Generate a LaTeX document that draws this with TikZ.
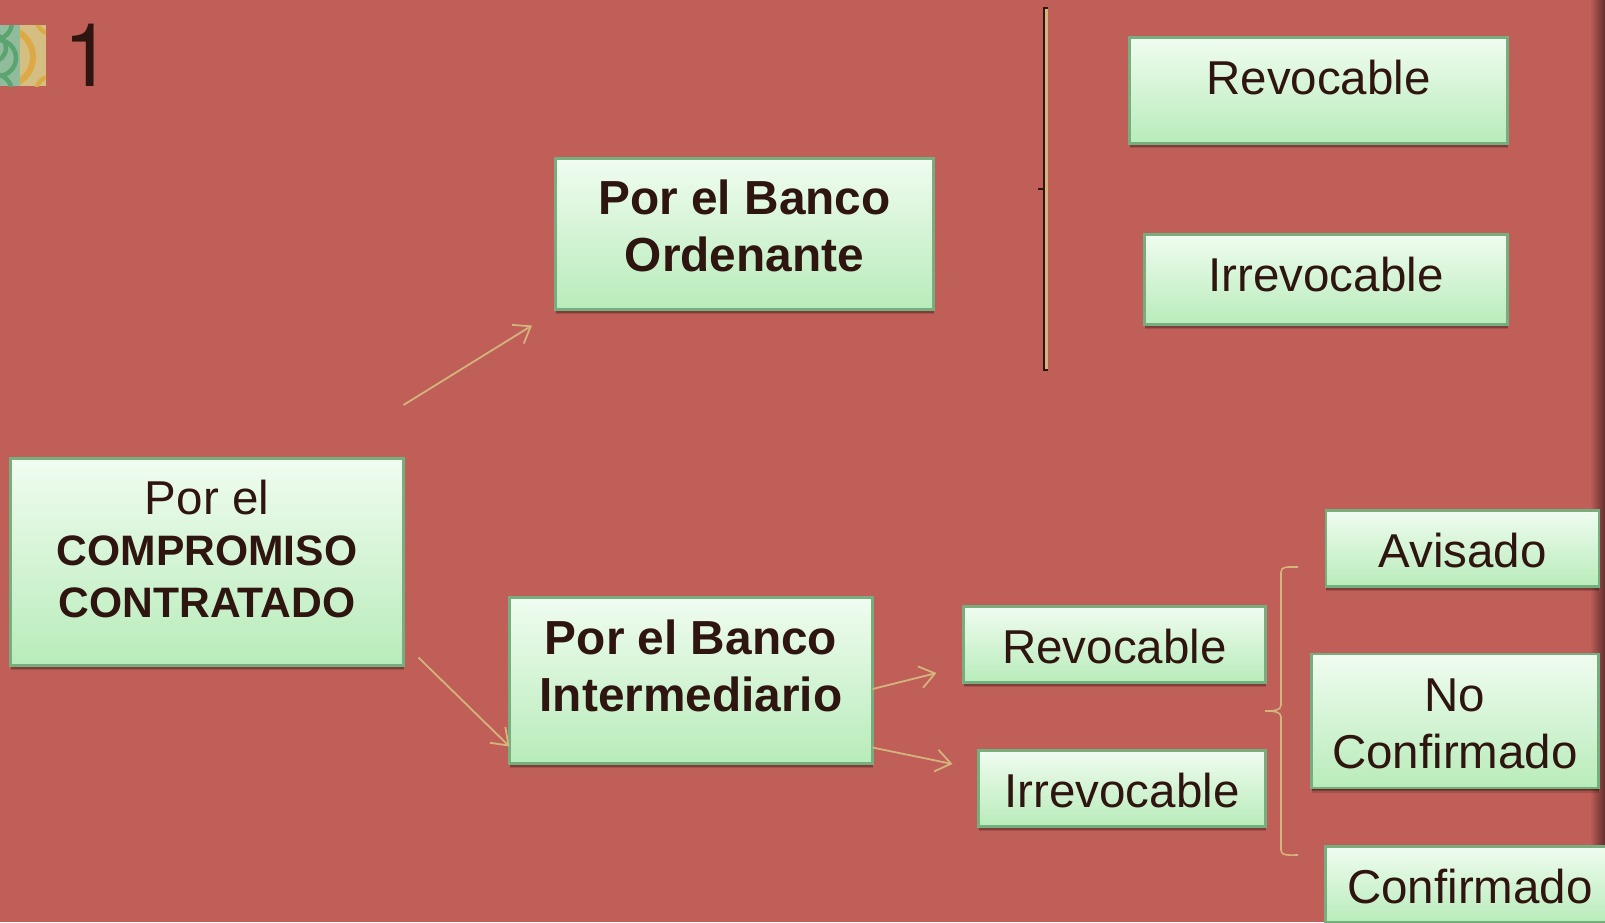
\documentclass[tikz,border=0pt]{standalone}
\usepackage{fontspec}
\setmainfont{Liberation Sans}
\newfontfamily\numfont{TeX Gyre Heros}
\usetikzlibrary{arrows.meta,shadows,fadings}
\definecolor{bgred}{HTML}{C05E58}
\definecolor{ink}{HTML}{2F1510}
\definecolor{gold}{HTML}{D2B47C}
\definecolor{boxedge}{HTML}{77AE7E}
\definecolor{boxtop}{HTML}{F0FCF0}
\definecolor{boxbot}{HTML}{B8ECBA}
\definecolor{icongreen}{HTML}{91BC9B}
\definecolor{icongreend}{HTML}{5AA56F}
\definecolor{icongold}{HTML}{D4BE82}
\definecolor{icongoldd}{HTML}{DCA945}
\newcommand\boxtext[3]{\raisebox{#1}[0pt][0pt]{\fontsize{47.5}{#2}\selectfont\setlength{\tabcolsep}{0pt}\begin{tabular}[t]{c}#3\end{tabular}}}
\newcommand\txtreg{\fontsize{47.5}{57}\selectfont}
\newcommand\txtbf{\fontsize{47.8}{57.5}\selectfont\bfseries}
\newcommand\txtcaps{\fontsize{42.6}{51.5}\selectfont\bfseries}
\tikzset{
  x=1pt,y=-1pt,
  boxn/.style={rectangle,draw=boxedge,line width=2.4pt,outer sep=0pt,inner sep=0pt,
    top color=boxtop,bottom color=boxbot,text=ink,
    drop shadow={shadow xshift=0pt,shadow yshift=-4.5pt,opacity=.14,fill=black},
    drop shadow={shadow xshift=0pt,shadow yshift=-3pt,opacity=.22,fill=black},
    drop shadow={shadow xshift=0pt,shadow yshift=-1.5pt,opacity=.25,fill=black}},
  conn/.style={draw=gold,line width=1.8pt,-{Straight Barb[length=15pt,width=22pt,line width=1.8pt]}},
  goldline/.style={draw=gold,line width=1.6pt},
  darkline/.style={draw=ink,line width=1.6pt},
}
\begin{document}
\begin{tikzpicture}
\useasboundingbox (0,0) rectangle (1605,922);
\clip (0,0) rectangle (1605,922);
\fill[bgred] (0,0) rectangle (1605,922);
% right edge shade
\shade[left color=bgred,right color=bgred!50!black] (1590,0) rectangle (1605,922);
% icon
\begin{scope}
\clip (0,25) rectangle (46,86);
\fill[icongreen] (0,25) rectangle (20,86);
\fill[icongold] (20,25) rectangle (46,86);
\begin{scope}
\clip (0,25) rectangle (20,86);
\draw[line width=4.5pt,icongreend] (-6,22) circle (18);
\draw[line width=4.5pt,icongreend] (-8,48) circle (14);
\draw[line width=4.5pt,icongreend] (-2,58) circle (18);
\draw[line width=4.5pt,icongreend] (-6,92) circle (18);
\end{scope}
\begin{scope}
\clip (20,25) rectangle (46,86);
\draw[line width=6pt,icongoldd] (4,57) circle (29);
\draw[line width=4pt,icongoldd] (52,18) circle (16);
\draw[line width=4pt,icongoldd] (52,92) circle (16);
\end{scope}
\end{scope}
\node[text=ink,font=\numfont\fontsize{88}{88}\selectfont,anchor=base west,inner sep=0pt] (num) at (63,86) {1};
% boxes
\node[boxn,minimum width=378pt,minimum height=106pt] (rev1) at (1318.5,90.5) {\boxtext{-3.5pt}{57pt}{\txtreg Revocable}};
\node[boxn,minimum width=363pt,minimum height=90pt] (irr1) at (1326,279.5) {\boxtext{-12pt}{57pt}{\txtreg Irrevocable}};
\node[boxn,minimum width=378pt,minimum height=151pt] (orden) at (744.5,234) {\boxtext{20pt}{57.5pt}{\txtbf Por el Banco\\\txtbf Ordenante}};
\node[boxn,minimum width=393pt,minimum height=207pt] (comp) at (207,562) {\boxtext{48pt}{51.5pt}{\txtreg Por el\\\txtcaps COMPROMISO\\\txtcaps CONTRATADO}};
\node[boxn,minimum width=363pt,minimum height=166pt] (inter) at (691,680.5) {\boxtext{26.5pt}{57.5pt}{\txtbf Por el Banco\\\txtbf Intermediario}};
\node[boxn,minimum width=302pt,minimum height=76pt] (rev2) at (1114.5,644.5) {\boxtext{-18.5pt}{57pt}{\txtreg Revocable}};
\node[boxn,minimum width=287pt,minimum height=76pt] (irr2) at (1122,788.5) {\boxtext{-18.5pt}{57pt}{\txtreg Irrevocable}};
\node[boxn,minimum width=273pt,minimum height=76pt] (avis) at (1462.5,548.5) {\boxtext{-18.5pt}{57pt}{\txtreg Avisado}};
\node[boxn,minimum width=287pt,minimum height=134pt] (nocf) at (1455,721) {\boxtext{10pt}{57pt}{\txtreg No\\\txtreg Confirmado}};
\node[boxn,minimum width=289pt,minimum height=76pt] (conf) at (1470,884.5) {\boxtext{-18.5pt}{57pt}{\txtreg Confirmado}};
% connectors
\draw[conn] ([yshift=53.5pt]comp.north east) -- ([xshift=-23.5pt,yshift=-16pt]orden.south west);
\draw[conn] ([xshift=15pt,yshift=8pt]comp.south east) -- ([yshift=17pt]inter.south west);
\draw[conn] ([yshift=-8.5pt]inter.east) -- ([xshift=-27pt,yshift=-28.5pt]rev2.west);
\draw[conn] ([yshift=16pt]inter.south east) -- ([xshift=-26pt,yshift=24.5pt]irr2.west);
% upper bracket
\fill[gold] (1044,8) rectangle (1048,370);
\draw[darkline] (1048,8) -- (1043.8,8) -- (1043.8,370) -- (1048,370);
\draw[darkline] (1038,189) -- (1043.8,189);
% lower brace
\draw[goldline] (1298,567) .. controls (1288,567) and (1281,566) .. (1281,572) -- (1281,705) .. controls (1281,710) and (1275,711) .. (1265,711) .. controls (1275,711) and (1281,712) .. (1281,717) -- (1281,850) .. controls (1281,856) and (1288,855) .. (1298,855);
\end{tikzpicture}
\end{document}
